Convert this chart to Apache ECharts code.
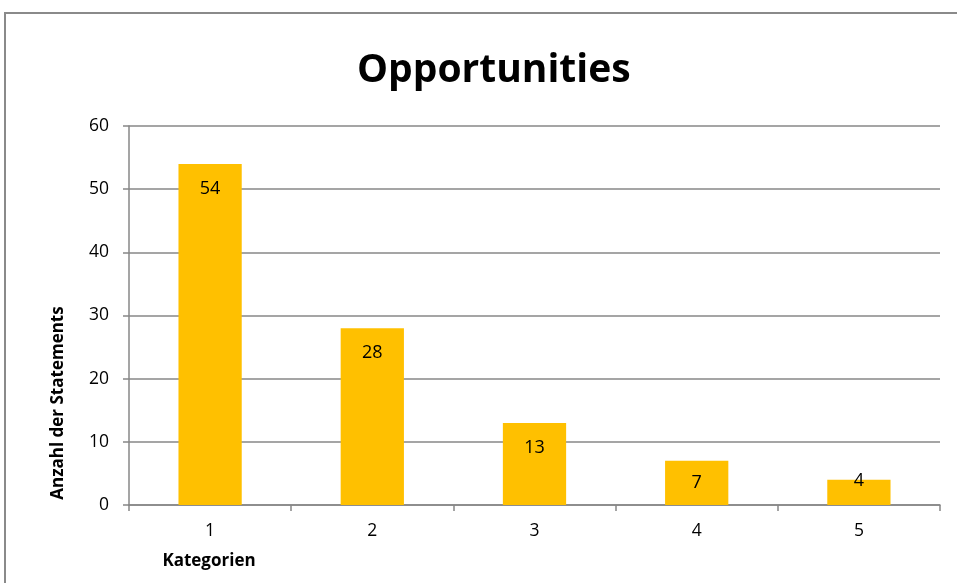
<!DOCTYPE html>
<html>
<head>
<meta charset="utf-8">
<script src="https://cdn.jsdelivr.net/npm/echarts@6/dist/echarts.min.js"></script>
<style>
  html, body { margin: 0; padding: 0; background: #fff; }
  #chart { width: 957px; height: 583px; }
</style>
</head>
<body>
<div id="chart"></div>
<script>
const categories = ["1", "2", "3", "4", "5"];
const counts = [54, 28, 13, 7, 4];

const chart = echarts.init(document.getElementById("chart"), null, { renderer: "canvas" });
const font = "'Open Sans', 'Noto Sans', sans-serif";
const gray = "#878787";

// Excel-style "inside end" labels; short bars get centred / pushed up
function labelFor(v) {
  if (v >= 10) return { position: "insideTop", distance: 16 };
  if (v >= 6) return { position: "inside" };
  return { position: "insideTop", distance: -8 };
}

chart.setOption({
  animation: false,
  title: {
    text: "Opportunities",
    left: 352,
    top: 46,
    textStyle: { fontFamily: font, fontSize: 39, fontWeight: "bold", color: "#000" }
  },
  graphic: [
    {
      type: "rect",
      shape: { x: 5, y: 13, width: 1000, height: 1000 },
      style: { fill: "none", stroke: "#8a8a8a", lineWidth: 2 },
      z: -1
    },
    {
      type: "text",
      x: 58, y: 403, rotation: Math.PI / 2,
      style: {
        text: "Anzahl der Statements",
        font: "bold 17px " + font, fill: "#000",
        textAlign: "center", textVerticalAlign: "middle"
      }
    },
    {
      type: "text",
      x: 209, y: 561,
      style: {
        text: "Kategorien",
        font: "bold 17px " + font, fill: "#000",
        textAlign: "center", textVerticalAlign: "middle"
      }
    }
  ],
  grid: { left: 129, right: 17, top: 126, bottom: 78 },
  xAxis: {
    type: "category",
    data: categories,
    boundaryGap: true,
    axisLine: { lineStyle: { color: gray, width: 1.5 } },
    axisTick: { show: true, length: 6, lineStyle: { color: gray, width: 1.5 } },
    axisLabel: { fontFamily: font, fontSize: 17.5, color: "#000", margin: 17 }
  },
  yAxis: {
    type: "value",
    min: 0,
    max: 60,
    interval: 10,
    axisLine: { show: true, lineStyle: { color: gray, width: 1.5 } },
    axisTick: { show: true, length: 6, lineStyle: { color: gray, width: 1.5 } },
    axisLabel: { fontFamily: font, fontSize: 17.5, color: "#000", margin: 20 },
    splitLine: { lineStyle: { color: gray, width: 1.5 } }
  },
  series: [{
    type: "bar",
    barWidth: "39%",
    itemStyle: { color: "#FFC000" },
    label: { show: true, fontFamily: font, fontSize: 18, color: "#000" },
    data: counts.map(v => ({ value: v, label: labelFor(v) }))
  }]
});
</script>
</body>
</html>
